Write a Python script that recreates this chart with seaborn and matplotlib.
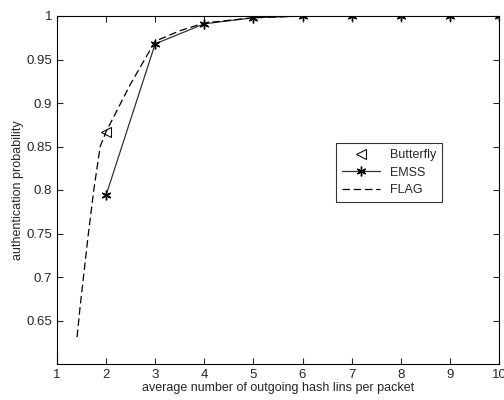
import numpy as np
import pandas as pd
import seaborn as sns
import matplotlib.pyplot as plt

# values
emss_x = [2, 3, 4, 5, 6, 7, 8, 9, 10]
emss_y = [0.794, 0.968, 0.991, 0.998, 1.0, 1.0, 1.0, 1.0, 1.0]

flag_x = [1.41, 1.47, 1.54, 1.64, 1.75, 1.88, 2.0, 2.5, 3.0, 3.5, 4.0, 5.0, 6.0]
flag_y = [0.631, 0.665, 0.70, 0.75, 0.80, 0.85, 0.867, 0.922, 0.971, 0.983, 0.992, 0.998, 1.0]

butterfly_x = [2]
butterfly_y = [0.867]

xticks = [1, 2, 3, 4, 5, 6, 7, 8, 9, 10]
yticks = [0.65, 0.7, 0.75, 0.8, 0.85, 0.9, 0.95, 1]

sns.set_style("white")
plt.rcParams['font.family'] = ['Liberation Sans', 'DejaVu Sans']

fig, ax = plt.subplots(figsize=(5.04, 4.0), dpi=100)
fig.subplots_adjust(left=0.113, right=0.99, top=0.96, bottom=0.09)

df_emss = pd.DataFrame({"x": emss_x, "y": emss_y})
df_flag = pd.DataFrame({"x": flag_x, "y": flag_y})
df_bf = pd.DataFrame({"x": butterfly_x, "y": butterfly_y})

sns.lineplot(data=df_bf, x="x", y="y", ax=ax, marker="<", markersize=7,
             markerfacecolor="none", markeredgecolor="black", linestyle="none",
             color="black", label="Butterfly")
sns.lineplot(data=df_emss, x="x", y="y", ax=ax, marker=(6, 2, 0), markersize=7,
             color="#333333", markeredgecolor="black", markeredgewidth=1.0,
             linewidth=0.9, label="EMSS")
sns.lineplot(data=df_flag, x="x", y="y", ax=ax, color="black", linewidth=0.9,
             linestyle=(0, (6, 3)), label="FLAG")

ax.set_xlim(1, 10)
ax.set_ylim(0.6, 1.0)
ax.set_xticks(xticks)
ax.set_xticklabels([str(t) for t in xticks])
ax.set_yticks(yticks)
ax.set_yticklabels([f"{t:g}" for t in yticks])
ax.tick_params(direction="in", length=4, labelsize=9.5, top=True, right=True,
               bottom=True, left=True, width=0.8)
for s in ax.spines.values():
    s.set_color("black")
    s.set_linewidth(0.8)

ax.set_xlabel("average number of outgoing hash lins per packet", fontsize=9, labelpad=1)
ax.set_ylabel("authentication probability", fontsize=9, labelpad=2)

leg = ax.legend(loc="upper left", bbox_to_anchor=(0.617, 0.654), frameon=True,
                fancybox=False, edgecolor="black", fontsize=9, handlelength=3,
                borderpad=0.5, labelspacing=0.45)
leg.get_frame().set_linewidth(0.8)

fig.savefig("out.png", dpi=100)
